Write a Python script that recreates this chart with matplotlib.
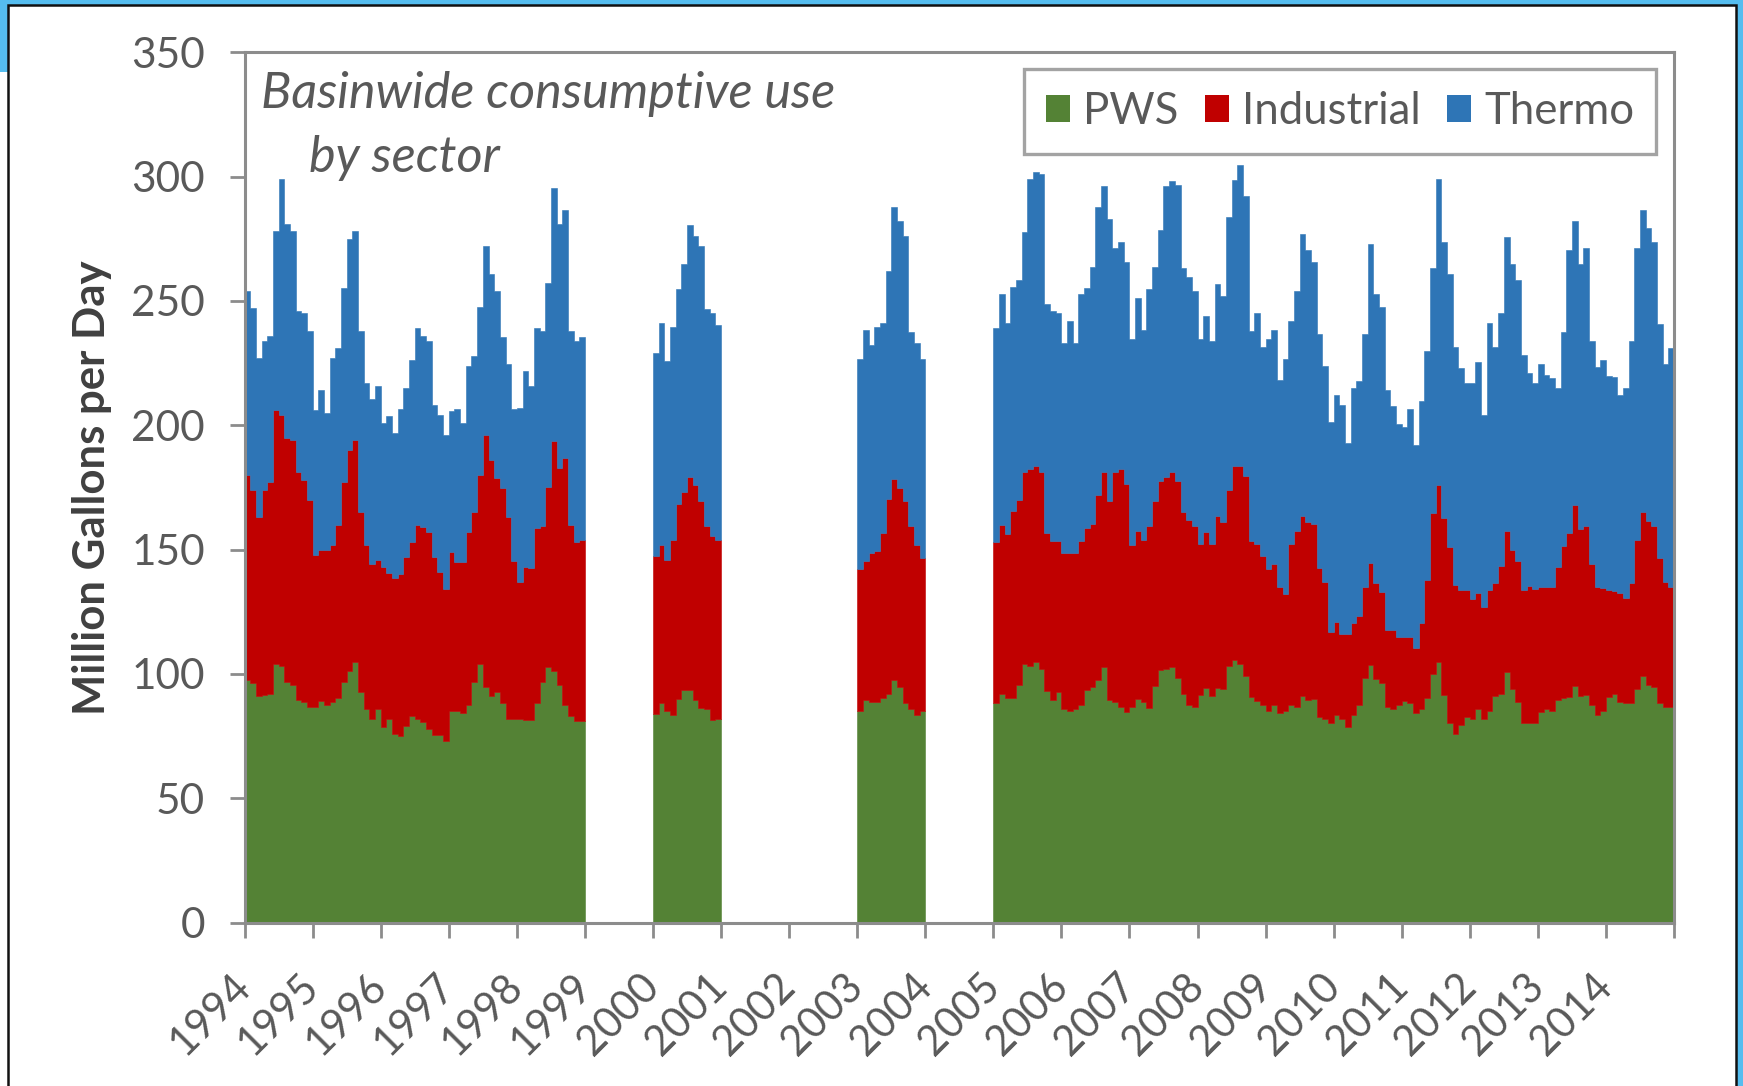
import numpy as np
import matplotlib
matplotlib.use("Agg")
import matplotlib.pyplot as plt
from matplotlib.patches import Rectangle, Patch
from matplotlib.transforms import ScaledTranslation

# ---------------------------------------------------------------------------
# Monthly basinwide consumptive use (million gallons per day), Jan..Dec
# ---------------------------------------------------------------------------
years = [1994, 1995, 1996, 1997, 1998, 2000, 2003,
         2005, 2006, 2007, 2008, 2009, 2010, 2011, 2012, 2013, 2014]

pws = [
    [97.6, 96.4, 91.3, 91.6, 92.0, 104.0, 103.3, 96.8, 95.7, 89.7, 88.9, 86.8],
    [86.8, 89.2, 87.7, 88.9, 90.4, 96.8, 101.0, 104.8, 92.8, 85.7, 82.0, 85.7],
    [78.5, 81.7, 76.0, 75.0, 78.9, 83.0, 81.7, 80.5, 78.0, 75.6, 75.6, 73.0],
    [85.2, 85.0, 84.4, 87.5, 96.8, 104.0, 94.8, 91.3, 92.8, 88.4, 82.0, 82.0],
    [82.0, 81.4, 81.4, 88.4, 96.8, 102.7, 101.0, 95.7, 87.5, 83.0, 81.0, 81.0],
    [83.8, 88.4, 84.9, 83.3, 90.0, 93.6, 93.6, 89.4, 86.2, 85.7, 81.4, 82.0],
    [84.9, 89.4, 88.6, 88.6, 90.4, 92.0, 97.6, 94.8, 88.4, 85.7, 83.3, 84.9],
    [88.4, 92.0, 90.4, 90.4, 95.6, 104.0, 103.2, 104.8, 102.1, 93.3, 89.7, 92.8],
    [86.0, 85.2, 85.7, 87.3, 93.6, 94.8, 97.6, 102.7, 89.7, 88.9, 86.5, 84.6],
    [86.5, 90.0, 88.9, 86.2, 95.2, 101.6, 101.9, 102.7, 98.4, 92.0, 87.3, 86.8],
    [91.7, 94.4, 91.3, 94.4, 94.0, 103.2, 105.6, 104.0, 99.2, 90.8, 89.2, 87.3],
    [84.9, 87.3, 84.1, 85.2, 87.3, 86.5, 91.0, 89.7, 90.0, 82.5, 82.0, 80.4],
    [83.6, 81.7, 78.5, 83.6, 87.3, 98.4, 103.7, 98.1, 96.5, 86.5, 85.7, 87.3],
    [89.2, 88.4, 84.1, 85.7, 90.4, 100.0, 104.8, 91.7, 80.4, 75.7, 79.3, 82.5],
    [81.7, 85.7, 81.7, 84.9, 91.3, 92.0, 100.8, 94.0, 88.9, 80.1, 80.1, 80.1],
    [84.6, 85.7, 85.2, 89.7, 90.4, 90.8, 95.2, 91.3, 91.7, 87.3, 83.3, 84.9],
    [90.8, 91.9, 88.6, 88.4, 88.4, 93.9, 99.2, 95.7, 94.8, 88.4, 86.5, 86.5],
]

industrial = [
    [82.4, 77.6, 71.7, 82.4, 85.0, 102.0, 100.7, 98.2, 98.3, 91.3, 89.1, 83.2],
    [61.2, 60.8, 62.3, 63.1, 69.6, 80.2, 89.0, 89.2, 72.2, 66.3, 62.0, 60.3],
    [64.5, 58.9, 62.7, 65.0, 68.1, 70.0, 78.3, 78.5, 79.0, 71.4, 65.4, 61.0],
    [63.8, 60.0, 60.6, 69.5, 68.2, 76.0, 101.2, 94.7, 85.9, 86.3, 81.0, 63.6],
    [55.0, 61.6, 61.1, 70.2, 62.8, 72.3, 92.8, 87.0, 99.2, 77.0, 72.0, 73.0],
    [63.6, 63.6, 60.9, 70.4, 78.4, 79.5, 85.7, 86.4, 83.2, 73.6, 74.2, 71.7],
    [57.2, 56.2, 59.9, 60.7, 66.4, 78.3, 80.8, 79.9, 81.0, 73.6, 68.7, 61.6],
    [64.6, 68.0, 65.7, 75.3, 74.4, 77.1, 79.0, 79.0, 79.0, 63.5, 63.6, 60.5],
    [62.7, 63.3, 63.0, 66.0, 64.9, 65.6, 74.4, 78.4, 80.0, 92.2, 95.7, 91.7],
    [65.2, 67.3, 65.1, 73.1, 74.2, 75.8, 77.1, 78.4, 79.0, 73.2, 74.7, 72.5],
    [60.4, 62.8, 60.8, 69.2, 67.2, 70.8, 78.2, 79.8, 80.3, 62.5, 62.9, 60.1],
    [57.2, 56.7, 50.9, 46.8, 64.8, 71.0, 72.6, 71.5, 70.4, 60.0, 55.0, 36.6],
    [37.1, 34.3, 37.5, 36.7, 35.8, 36.6, 41.1, 38.5, 36.4, 31.0, 31.8, 27.5],
    [25.6, 26.4, 26.5, 34.6, 47.3, 64.8, 71.0, 71.1, 70.8, 60.1, 54.6, 51.2],
    [48.3, 46.9, 45.3, 49.0, 45.3, 51.4, 56.7, 56.0, 56.4, 53.8, 55.4, 54.1],
    [50.4, 49.3, 49.8, 53.2, 61.0, 66.0, 72.7, 67.0, 67.6, 56.7, 51.7, 49.6],
    [42.9, 41.5, 44.0, 42.3, 48.2, 60.1, 66.0, 65.8, 64.8, 58.1, 50.5, 48.5],
]

thermo = [
    [74.0, 73.0, 64.0, 60.0, 59.0, 72.0, 95.0, 86.0, 84.0, 65.0, 67.0, 68.0],
    [58.0, 64.0, 55.0, 75.0, 71.0, 78.0, 85.0, 84.0, 73.0, 65.0, 66.5, 69.6],
    [58.0, 63.2, 58.0, 66.5, 67.8, 73.4, 79.0, 77.0, 77.0, 61.0, 63.0, 62.0],
    [56.7, 61.5, 56.0, 67.0, 63.0, 67.5, 76.0, 75.0, 75.3, 60.9, 61.8, 60.9],
    [70.0, 79.0, 73.2, 80.4, 78.2, 82.0, 101.7, 98.3, 99.8, 78.0, 81.0, 81.6],
    [81.6, 89.0, 80.2, 85.7, 86.3, 91.8, 101.1, 100.2, 102.8, 87.4, 89.4, 86.5],
    [84.6, 92.7, 83.8, 90.1, 84.4, 91.9, 109.2, 107.3, 106.6, 78.2, 81.0, 80.2],
    [86.1, 92.6, 85.1, 89.8, 88.5, 96.5, 117.0, 118.1, 120.0, 91.8, 92.5, 91.7],
    [84.3, 93.5, 84.3, 99.6, 96.5, 103.4, 115.6, 115.2, 113.1, 90.1, 91.6, 89.4],
    [83.1, 93.7, 84.3, 95.4, 94.4, 101.0, 117.3, 117.2, 119.3, 98.1, 97.5, 94.7],
    [82.7, 86.7, 81.8, 93.0, 90.9, 109.9, 114.9, 121.0, 112.5, 84.5, 92.9, 84.1],
    [92.6, 94.3, 83.0, 94.7, 89.9, 96.5, 113.2, 109.3, 105.3, 94.2, 87.0, 84.3],
    [91.3, 92.1, 77.0, 94.5, 94.5, 101.7, 128.0, 116.3, 114.6, 96.6, 90.1, 85.7],
    [84.6, 91.7, 81.6, 89.4, 92.3, 98.5, 123.4, 111.0, 109.8, 95.7, 89.3, 83.2],
    [86.9, 93.0, 77.1, 107.1, 94.9, 101.6, 118.2, 114.9, 113.2, 94.4, 85.6, 82.7],
    [89.8, 85.3, 83.8, 72.1, 86.1, 113.7, 114.1, 106.6, 111.9, 89.9, 88.5, 91.9],
    [86.0, 85.8, 79.4, 84.3, 97.3, 117.2, 121.3, 117.8, 114.2, 94.2, 87.8, 96.2],
]

series_labels = ["PWS", "Industrial", "Thermo"]
series_colors = ["#548235", "#C00000", "#2E75B6"]
tick_years = list(range(1994, 2016))
y_ticks = [0, 50, 100, 150, 200, 250, 300, 350]

TEXT_GRAY = "#595959"
AXIS_GRAY = "#8C8C8C"
FONT = ["Lato", "DejaVu Sans"]

plt.rcParams["font.family"] = FONT

W, H = 1743, 1086
fig = plt.figure(figsize=(W / 100, H / 100), dpi=100, facecolor="white")


def px_rect(x0, y0, x1, y1, **kw):
    """Rectangle given in figure pixels measured from the top-left corner."""
    return Rectangle((x0 / W, 1 - y1 / H), (x1 - x0) / W, (y1 - y0) / H,
                     transform=fig.transFigure, **kw)


# Panel decoration: light-blue page strips and the black panel frame
blue_page = "#55BDEF"
fig.patches.append(px_rect(0, 0, W, 5, facecolor=blue_page, edgecolor="none", zorder=0))
fig.patches.append(px_rect(0, 0, 8, 72, facecolor=blue_page, edgecolor="none", zorder=0))
fig.patches.append(px_rect(1736, 0, W, H, facecolor=blue_page, edgecolor="none", zorder=0))
fig.patches.append(px_rect(8, 5, 1736, H + 20, facecolor="white", edgecolor="#111111",
                           linewidth=1.8, zorder=1))

# Axes placement (pixel box of the plotting area)
ax_l, ax_r, ax_t, ax_b = 244.6, 1674.0, 52.2, 922.6
ax = fig.add_axes([ax_l / W, 1 - ax_b / H, (ax_r - ax_l) / W, (ax_b - ax_t) / H])
ax.set_facecolor("none")
ax.set_zorder(2)

# Group years into contiguous runs and draw the stacked monthly steps
runs = []
for i, yr in enumerate(years):
    if runs and yr == years[runs[-1][-1]] + 1:
        runs[-1].append(i)
    else:
        runs.append([i])

for run in runs:
    start = years[run[0]]
    p = np.concatenate([pws[i] for i in run])
    ind = np.concatenate([industrial[i] for i in run])
    th = np.concatenate([thermo[i] for i in run])
    n = len(p)
    x = start + np.arange(n + 1) / 12.0
    base = np.zeros(n)
    for vals, col in zip([p, ind, th], series_colors):
        top = base + vals
        y0 = np.append(base, base[-1])
        y1 = np.append(top, top[-1])
        ax.fill_between(x, y0, y1, step="post", facecolor=col,
                        edgecolor=col, linewidth=0.4, zorder=2)
        base = top

ax.set_xlim(1994, 2015)
ax.set_ylim(0, 350)

ax.set_yticks(y_ticks)
ax.set_yticklabels([str(v) for v in y_ticks])
ax.set_xticks(tick_years)
ax.set_xticklabels([str(y) if y < 2015 else "" for y in tick_years],
                   rotation=45, ha="right", va="center", rotation_mode="anchor")
nudge = ScaledTranslation(5 / 100, 0, fig.dpi_scale_trans)
for lab in ax.get_xticklabels():
    lab.set_transform(lab.get_transform() + nudge)

ax.tick_params(axis="y", direction="out", length=10.5, width=2.0, color=AXIS_GRAY,
               labelsize=30.5, labelcolor=TEXT_GRAY, pad=18)
ax.tick_params(axis="x", direction="out", length=10.5, width=2.0, color=AXIS_GRAY,
               labelsize=30, labelcolor=TEXT_GRAY, pad=31)

for s in ax.spines.values():
    s.set_color(AXIS_GRAY)
    s.set_linewidth(2.2)
    s.set_zorder(5)

# Axis title
fig.text(92 / W, 1 - 488 / H, "Million Gallons per Day", rotation=90,
         ha="center", va="center", fontsize=31.5, fontweight="bold", color="#404040")

# In-plot caption
fig.text(261 / W, 1 - 94 / H, "Basinwide consumptive use", ha="left", va="center",
         fontsize=36.3, style="italic", color=TEXT_GRAY, zorder=6)
fig.text(309 / W, 1 - 158 / H, "by sector", ha="left", va="center",
         fontsize=36.3, style="italic", color=TEXT_GRAY, zorder=6)

# Legend
handles = [Patch(facecolor=c, edgecolor="none") for c in series_colors]
leg = ax.legend(handles, series_labels, ncol=3, loc="upper right",
                bbox_to_anchor=(0.9874, 0.9807), borderaxespad=0,
                fontsize=31.5, frameon=True, fancybox=False,
                handlelength=0.55, handleheight=0.55, handletextpad=0.3,
                columnspacing=0.6, borderpad=0.5, labelcolor=TEXT_GRAY)
leg.get_frame().set_edgecolor(AXIS_GRAY)
leg.get_frame().set_linewidth(2.4)
leg.set_zorder(6)

fig.savefig("out.png", dpi=100, facecolor="white")
